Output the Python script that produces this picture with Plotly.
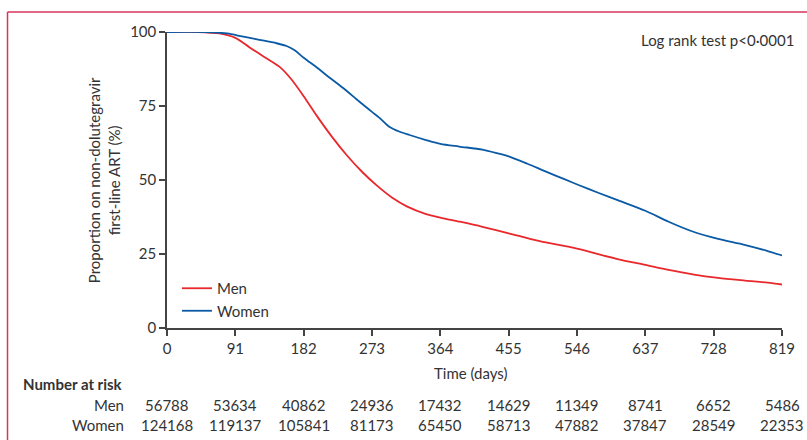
import plotly.graph_objects as go

# ---- data ----
men_days = [0, 40, 70, 91, 110, 130, 150, 165, 182, 200, 220, 240, 260, 280, 300, 320, 345, 364,
            390, 420, 455, 495, 546, 600, 637, 668, 700, 734, 770, 800, 819]
men_vals = [100, 100, 99.5, 98, 94.8, 91.5, 88.2, 84.2, 78.3, 71.5, 64.5, 58.2, 52.7, 48, 44, 41, 38.5, 37.3,
            35.9, 34.2, 32, 29.4, 26.8, 23.3, 21.3, 19.6, 18.1, 16.9, 16, 15.3, 14.7]
women_days = [0, 50, 80, 100, 120, 146, 160, 170, 182, 200, 212, 235, 256, 273, 283, 296, 310, 323, 345,
              364, 389, 420, 442, 455, 480, 504, 530, 548, 575, 601, 637, 668, 700, 734, 769, 800, 819]
women_vals = [100, 100, 99.5, 98.5, 97.5, 96.2, 95.2, 93.8, 91.3, 87.9, 85.5, 81, 76.5, 73, 71, 68, 66.3, 65.2, 63.5,
              62.2, 61.3, 60.3, 58.9, 58, 55.5, 52.9, 50.2, 48.3, 45.6, 43.1, 39.6, 35.9, 32.6, 30.1, 28.1, 26, 24.5]

x_ticks = [0, 91, 182, 273, 364, 455, 546, 637, 728, 819]
y_ticks = [0, 25, 50, 75, 100]
risk_men = [56788, 53634, 40862, 24936, 17432, 14629, 11349, 8741, 6652, 5486]
risk_women = [124168, 119137, 105841, 81173, 65450, 58713, 47882, 37847, 28549, 22353]

RED = "#e8282b"
BLUE = "#0b5aa6"
TXT = "#333333"
FONT = "Lato"
FS = 15

fig = go.Figure()
fig.add_trace(go.Scatter(x=men_days, y=men_vals, mode="lines", name="Men",
                         line=dict(color=RED, width=1.8, shape="spline", smoothing=0.8)))
fig.add_trace(go.Scatter(x=women_days, y=women_vals, mode="lines", name="Women",
                         line=dict(color=BLUE, width=1.8, shape="spline", smoothing=0.8)))

L, R, T, B = 167, 23, 32, 112
W, H = 807, 440
pw, ph = W - L - R, H - T - B

def px(xp):
    return (xp - L) / pw

def py(yp):
    return (H - B - yp) / ph

fig.update_layout(
    width=W, height=H,
    margin=dict(l=L, r=R, t=T, b=B),
    paper_bgcolor="white", plot_bgcolor="white",
    font=dict(family=FONT, size=FS, color=TXT),
    showlegend=True,
    legend=dict(x=px(177), y=py(272), xanchor="left", yanchor="top",
                bgcolor="rgba(0,0,0,0)", itemwidth=30, tracegroupgap=0,
                font=dict(family=FONT, size=FS, color=TXT)),
    xaxis=dict(range=[0, 819], tickmode="array", tickvals=x_ticks,
               ticktext=[str(v) for v in x_ticks],
               showgrid=False, zeroline=False, showline=True, linecolor="#444", linewidth=1.5,
               ticks="outside", ticklen=6, tickwidth=1.5, tickcolor="#444",
               tickfont=dict(family=FONT, size=FS, color=TXT)),
    yaxis=dict(range=[0, 100], tickmode="array", tickvals=y_ticks,
               ticktext=[str(v) for v in y_ticks],
               showgrid=False, zeroline=False, showline=True, linecolor="#444", linewidth=1.5,
               ticks="outside", ticklen=6, tickwidth=1.5, tickcolor="#444",
               tickfont=dict(family=FONT, size=FS, color=TXT)),
)

ann = []
ann.append(dict(text="Proportion on non-dolutegravir<br>first-line ART (%)", textangle=-90,
                xref="paper", yref="paper", x=px(104), y=py(180), xanchor="center", yanchor="middle",
                showarrow=False, font=dict(size=FS, color=TXT)))
ann.append(dict(text="Time (days)", xref="paper", yref="paper", x=px(472), y=py(373),
                xanchor="center", yanchor="middle", showarrow=False, font=dict(size=FS, color=TXT)))
ann.append(dict(text="Log rank test p<0·0001", xref="paper", yref="paper", x=px(798), y=py(40),
                xanchor="right", yanchor="middle", showarrow=False, font=dict(size=FS, color=TXT)))
ann.append(dict(text="<b>Number at risk</b>", xref="paper", yref="paper", x=px(21), y=py(384),
                xanchor="left", yanchor="middle", showarrow=False, font=dict(size=FS, color=TXT)))
ann.append(dict(text="Men", xref="paper", yref="paper", x=px(126), y=py(405),
                xanchor="right", yanchor="middle", showarrow=False, font=dict(size=FS, color=TXT)))
ann.append(dict(text="Women", xref="paper", yref="paper", x=px(126), y=py(425),
                xanchor="right", yanchor="middle", showarrow=False, font=dict(size=FS, color=TXT)))
for xv, m, w in zip(x_ticks, risk_men, risk_women):
    ann.append(dict(text=str(m), xref="x", yref="paper", x=xv, y=py(405),
                    xanchor="center", yanchor="middle", showarrow=False, font=dict(size=FS, color=TXT)))
    ann.append(dict(text=str(w), xref="x", yref="paper", x=xv, y=py(425),
                    xanchor="center", yanchor="middle", showarrow=False, font=dict(size=FS, color=TXT)))
fig.update_layout(annotations=ann)

BORDER = "#d6345e"
fig.add_shape(type="line", xref="paper", yref="paper", x0=px(7), x1=px(815), y0=py(12), y1=py(12),
              line=dict(color=BORDER, width=1.5))
fig.add_shape(type="line", xref="paper", yref="paper", x0=px(7), x1=px(7), y0=py(12), y1=py(450),
              line=dict(color=BORDER, width=1.5))

fig.write_html("out.html", config={"displayModeBar": False},
               post_script="document.body.style.margin='0';document.body.style.overflow='hidden';")
